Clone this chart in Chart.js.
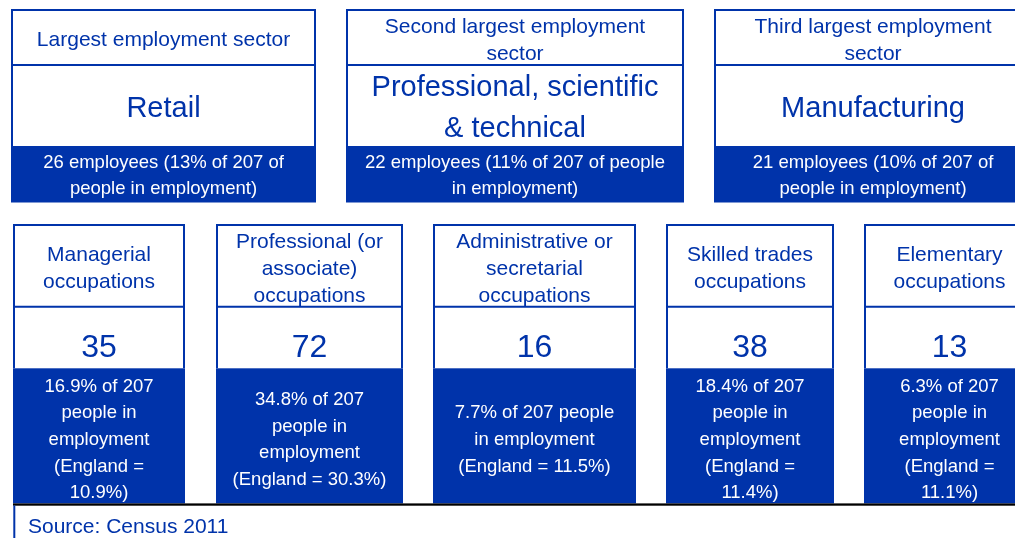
<!DOCTYPE html>
<html>
<head>
<meta charset="utf-8">
<script src="https://cdn.jsdelivr.net/npm/chart.js@4/dist/chart.umd.min.js"></script>
<style>
html,body{margin:0;padding:0;background:#ffffff;overflow:hidden}
canvas{display:block}
</style>
</head>
<body>
<canvas id="c" width="1015" height="538"></canvas>
<script>
// ---------- DATA ----------
const totalInEmployment = 207;
const sectorHeadings = ['Largest employment sector', 'Second largest employment sector', 'Third largest employment sector'];
const sectorNames = ['Retail', 'Professional, scientific & technical', 'Manufacturing'];
const sectorEmployees = [26, 22, 21];
const sectorPercent = [13, 11, 10];
const occupationNames = ['Managerial occupations', 'Professional (or associate) occupations', 'Administrative or secretarial occupations', 'Skilled trades occupations', 'Elementary occupations'];
const occupationCounts = [35, 72, 16, 38, 13];
const occupationPercent = [16.9, 34.8, 7.7, 18.4, 6.3];
const englandPercent = [10.9, 30.3, 11.5, 11.4, 11.1];
const sourceNote = 'Source: Census 2011';

// ---------- LAYOUT (positions in canvas units, mapped through the chart scales) ----------
const topTileX = [[11, 316], [346, 684], [714, 1032]];
const topRow = {top: 9, sep: 65, blueTop: 146, bottom: 202.5};
const bottomTileX = [[13, 185], [216, 403], [433, 636], [666, 834], [864, 1035]];
const bottomRow = {top: 224, sep: 306.7, blueTop: 368.3, bottom: 503.4};
const BLUE = '#0033AA';
const FONT = '"Liberation Sans", Arial, Helvetica, sans-serif';
const PAD = 13;

function wrap(ctx, text, maxW) {
  const words = text.split(' ');
  const lines = [];
  let cur = '';
  for (const w of words) {
    const test = cur ? cur + ' ' + w : w;
    if (cur && ctx.measureText(test).width > maxW) { lines.push(cur); cur = w; }
    else cur = test;
  }
  if (cur) lines.push(cur);
  return lines;
}

function drawBlock(ctx, text, cx, maxW, centerBaseline, lh, size, color) {
  ctx.font = size + 'px ' + FONT;
  ctx.fillStyle = color;
  ctx.textAlign = 'center';
  ctx.textBaseline = 'alphabetic';
  const lines = wrap(ctx, text, maxW);
  const first = centerBaseline - (lines.length - 1) * lh / 2;
  lines.forEach((l, i) => ctx.fillText(l, cx, first + i * lh));
}

const tilePlugin = {
  id: 'tiles',
  afterDraw(chart) {
    const ctx = chart.ctx;
    const sx = v => chart.scales.x.getPixelForValue(v);
    const sy = v => chart.scales.y.getPixelForValue(v);
    ctx.save();

    function tile(L, R, row) {
      const l = sx(L), r = sx(R), t = sy(row.top), s = sy(row.sep), bt = sy(row.blueTop), b = sy(row.bottom);
      ctx.fillStyle = '#ffffff';
      ctx.fillRect(l, t, r - l, bt - t);
      ctx.strokeStyle = BLUE;
      ctx.lineWidth = 2;
      ctx.beginPath();
      ctx.moveTo(l, t + 1); ctx.lineTo(r, t + 1);
      ctx.moveTo(l + 1, t); ctx.lineTo(l + 1, bt);
      ctx.moveTo(r - 1, t); ctx.lineTo(r - 1, bt);
      ctx.moveTo(l, s); ctx.lineTo(r, s);
      ctx.stroke();
      ctx.fillStyle = BLUE;
      ctx.fillRect(l, bt, r - l, b - bt);
    }

    // top row: employment sectors
    sectorNames.forEach((name, i) => {
      const [L, R] = topTileX[i];
      tile(L, R, topRow);
      const cx = sx((L + R) / 2);
      const w = sx(R) - sx(L) - 2 * PAD;
      drawBlock(ctx, sectorHeadings[i], cx, w, sy(46), 27, 21, BLUE);
      drawBlock(ctx, name, cx, w, sy(116.6), 41.6, 29, BLUE);
      const txt = sectorEmployees[i] + ' employees (' + sectorPercent[i] + '% of ' + totalInEmployment + ' of people in employment)';
      drawBlock(ctx, txt, cx, w, sy(181), 26.6, 18.5, '#ffffff');
    });

    // bottom row: occupations
    occupationNames.forEach((name, i) => {
      const [L, R] = bottomTileX[i];
      tile(L, R, bottomRow);
      const cx = sx((L + R) / 2);
      const w = sx(R) - sx(L) - 2 * PAD;
      drawBlock(ctx, name, cx, w, sy(274.5), 27, 21, BLUE);
      drawBlock(ctx, String(occupationCounts[i]), cx, 1000, sy(356.7), 0, 32, BLUE);
      const txt = occupationPercent[i].toFixed(1) + '% of ' + totalInEmployment + ' people in employment (England = ' + englandPercent[i].toFixed(1) + '%)';
      drawBlock(ctx, txt, cx, w, sy(445), 26.6, 18.5, '#ffffff');
    });

    // source box
    ctx.fillStyle = '#000000';
    ctx.fillRect(sx(13), sy(503.4), sx(1015) - sx(13), 2.3);
    ctx.fillStyle = BLUE;
    ctx.fillRect(sx(13.3), sy(505.5), 2, sy(538) - sy(505.5));
    ctx.font = '21px ' + FONT;
    ctx.textAlign = 'left';
    ctx.textBaseline = 'alphabetic';
    ctx.fillText(sourceNote, sx(28), sy(533));
    ctx.restore();
  }
};

new Chart(document.getElementById('c'), {
  type: 'scatter',
  data: {datasets: []},
  options: {
    responsive: false,
    animation: false,
    devicePixelRatio: 1,
    layout: {padding: 0},
    plugins: {legend: {display: false}, tooltip: {enabled: false}, title: {display: false}},
    scales: {
      x: {type: 'linear', min: 0, max: 1015, display: false},
      y: {type: 'linear', min: 0, max: 538, reverse: true, display: false}
    }
  },
  plugins: [tilePlugin]
});
</script>
</body>
</html>
